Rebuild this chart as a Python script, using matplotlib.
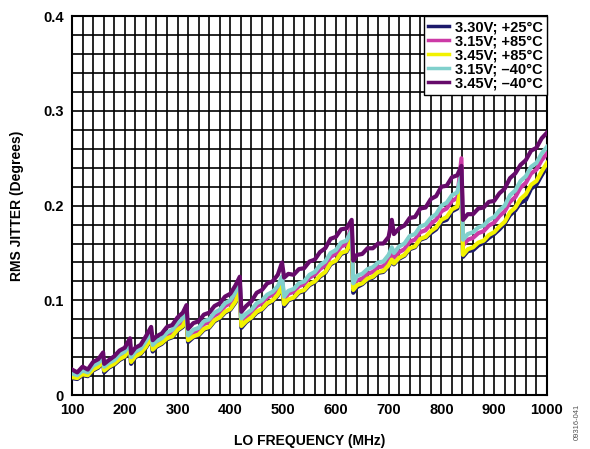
import numpy as np
import matplotlib
matplotlib.use('Agg')
import matplotlib.pyplot as plt
from matplotlib.ticker import MultipleLocator, FuncFormatter

plt.rcParams['font.family'] = ['Liberation Sans', 'DejaVu Sans']
plt.rcParams['font.weight'] = 'bold'

# LO frequency (MHz), shared by all five curves
freq = [100, 110, 120, 130, 140, 150, 159, 161, 170, 180,
        190, 200, 210, 212, 220, 230, 240, 250, 253, 260,
        270, 280, 290, 300, 310, 317, 320, 330, 340, 350,
        360, 370, 380, 390, 400, 410, 418, 421, 430, 440,
        450, 460, 470, 480, 490, 498, 502, 510, 520, 530,
        540, 550, 560, 570, 580, 590, 600, 610, 620, 630,
        633, 640, 650, 660, 670, 680, 690, 700, 706, 710,
        720, 730, 740, 750, 760, 770, 780, 790, 800, 810,
        820, 830, 838, 841, 850, 860, 870, 880, 890, 900,
        910, 920, 930, 940, 950, 960, 970, 980, 990, 1000]

# RMS jitter (degrees)
jit_330_25 = [0.018, 0.017, 0.021, 0.020, 0.026, 0.029, 0.035, 0.024, 0.029, 0.032,
              0.037, 0.040, 0.048, 0.033, 0.040, 0.043, 0.050, 0.059, 0.046, 0.051,
              0.054, 0.059, 0.061, 0.068, 0.072, 0.080, 0.056, 0.061, 0.063, 0.069,
              0.071, 0.078, 0.081, 0.087, 0.090, 0.098, 0.108, 0.071, 0.077, 0.081,
              0.087, 0.090, 0.096, 0.099, 0.105, 0.114, 0.094, 0.100, 0.102, 0.108,
              0.110, 0.116, 0.119, 0.125, 0.129, 0.138, 0.141, 0.149, 0.151, 0.163,
              0.108, 0.114, 0.117, 0.122, 0.124, 0.129, 0.130, 0.136, 0.142, 0.138,
              0.144, 0.147, 0.154, 0.156, 0.164, 0.166, 0.171, 0.175, 0.183, 0.185,
              0.194, 0.197, 0.220, 0.146, 0.152, 0.153, 0.158, 0.161, 0.166, 0.170,
              0.175, 0.181, 0.190, 0.195, 0.203, 0.206, 0.218, 0.222, 0.232, 0.241]

jit_315_85 = [0.021, 0.020, 0.024, 0.023, 0.029, 0.032, 0.039, 0.028, 0.032, 0.035,
              0.041, 0.044, 0.053, 0.038, 0.044, 0.047, 0.055, 0.065, 0.051, 0.055,
              0.058, 0.064, 0.066, 0.073, 0.078, 0.088, 0.060, 0.066, 0.068, 0.075,
              0.077, 0.084, 0.087, 0.094, 0.097, 0.106, 0.118, 0.078, 0.083, 0.087,
              0.094, 0.097, 0.103, 0.106, 0.112, 0.122, 0.101, 0.107, 0.109, 0.115,
              0.117, 0.124, 0.127, 0.133, 0.137, 0.146, 0.149, 0.157, 0.159, 0.180,
              0.114, 0.121, 0.123, 0.128, 0.130, 0.135, 0.136, 0.143, 0.150, 0.145,
              0.151, 0.154, 0.162, 0.164, 0.172, 0.174, 0.181, 0.185, 0.194, 0.197,
              0.205, 0.208, 0.250, 0.158, 0.164, 0.166, 0.171, 0.173, 0.179, 0.182,
              0.189, 0.194, 0.204, 0.209, 0.219, 0.224, 0.234, 0.238, 0.248, 0.255]

jit_345_85 = [0.019, 0.018, 0.022, 0.021, 0.027, 0.030, 0.036, 0.026, 0.030, 0.033,
              0.038, 0.041, 0.049, 0.035, 0.041, 0.044, 0.051, 0.060, 0.048, 0.052,
              0.055, 0.060, 0.062, 0.069, 0.073, 0.081, 0.058, 0.062, 0.064, 0.070,
              0.072, 0.079, 0.082, 0.088, 0.091, 0.099, 0.110, 0.073, 0.078, 0.082,
              0.088, 0.091, 0.097, 0.100, 0.106, 0.115, 0.096, 0.101, 0.103, 0.109,
              0.111, 0.117, 0.120, 0.126, 0.130, 0.139, 0.142, 0.150, 0.152, 0.164,
              0.111, 0.116, 0.118, 0.123, 0.125, 0.130, 0.131, 0.137, 0.143, 0.139,
              0.145, 0.148, 0.155, 0.157, 0.165, 0.167, 0.173, 0.177, 0.185, 0.188,
              0.196, 0.199, 0.222, 0.148, 0.154, 0.156, 0.161, 0.163, 0.169, 0.172,
              0.178, 0.183, 0.193, 0.198, 0.207, 0.212, 0.222, 0.226, 0.236, 0.245]

jit_315_m40 = [0.023, 0.021, 0.026, 0.024, 0.031, 0.034, 0.040, 0.030, 0.034, 0.037,
               0.043, 0.046, 0.054, 0.040, 0.046, 0.049, 0.057, 0.066, 0.053, 0.057,
               0.060, 0.066, 0.069, 0.076, 0.081, 0.089, 0.063, 0.069, 0.071, 0.078,
               0.080, 0.087, 0.090, 0.097, 0.100, 0.109, 0.119, 0.081, 0.086, 0.090,
               0.097, 0.100, 0.106, 0.109, 0.115, 0.125, 0.104, 0.110, 0.112, 0.118,
               0.120, 0.127, 0.130, 0.137, 0.141, 0.150, 0.153, 0.161, 0.163, 0.174,
               0.118, 0.126, 0.128, 0.133, 0.135, 0.140, 0.141, 0.148, 0.156, 0.150,
               0.157, 0.160, 0.168, 0.170, 0.178, 0.180, 0.187, 0.191, 0.200, 0.203,
               0.211, 0.214, 0.234, 0.164, 0.170, 0.172, 0.177, 0.179, 0.185, 0.188,
               0.195, 0.200, 0.211, 0.216, 0.226, 0.231, 0.241, 0.245, 0.255, 0.262]

jit_345_m40 = [0.027, 0.024, 0.030, 0.027, 0.035, 0.038, 0.045, 0.033, 0.037, 0.041,
               0.047, 0.050, 0.060, 0.044, 0.050, 0.053, 0.062, 0.072, 0.058, 0.062,
               0.065, 0.072, 0.074, 0.082, 0.087, 0.095, 0.070, 0.076, 0.078, 0.085,
               0.087, 0.094, 0.097, 0.104, 0.107, 0.116, 0.125, 0.088, 0.094, 0.099,
               0.108, 0.111, 0.118, 0.120, 0.127, 0.140, 0.124, 0.128, 0.127, 0.133,
               0.134, 0.141, 0.143, 0.151, 0.155, 0.165, 0.167, 0.175, 0.176, 0.185,
               0.142, 0.148, 0.149, 0.155, 0.155, 0.160, 0.160, 0.167, 0.185, 0.170,
               0.176, 0.179, 0.187, 0.188, 0.197, 0.198, 0.207, 0.210, 0.220, 0.221,
               0.230, 0.232, 0.242, 0.185, 0.191, 0.191, 0.197, 0.198, 0.204, 0.205,
               0.213, 0.218, 0.229, 0.234, 0.243, 0.248, 0.258, 0.261, 0.271, 0.277]

labels = ['3.30V; +25°C', '3.15V; +85°C', '3.45V; +85°C',
          '3.15V; \u201340°C', '3.45V; \u201340°C']
colors = ['#1c1a6b', '#cc3aa6', '#f2f200', '#80d0cc', '#660a6a']
series = [jit_330_25, jit_315_85, jit_345_85, jit_315_m40, jit_345_m40]

fig = plt.figure(figsize=(5.9, 4.49), dpi=100)
ax = fig.add_axes([0.122, 0.120, 0.805, 0.844])

for vals, lab, col in zip(series, labels, colors):
    ax.plot(freq, vals, color=col, lw=3.0, label=lab, zorder=3)

ax.set_xlim(100, 1000)
ax.set_ylim(0, 0.4)
ax.xaxis.set_major_locator(MultipleLocator(100))
ax.xaxis.set_minor_locator(MultipleLocator(20))
ax.yaxis.set_major_locator(MultipleLocator(0.1))
ax.yaxis.set_minor_locator(MultipleLocator(0.02))
ax.yaxis.set_major_formatter(FuncFormatter(lambda v, p: '0' if v == 0 else '%.1f' % v))
ax.grid(which='both', color='black', lw=1.2, zorder=1)
ax.tick_params(which='both', length=0, labelsize=10.5, pad=6)
for s in ax.spines.values():
    s.set_linewidth(1.5)

ax.set_xlabel('LO FREQUENCY (MHz)', fontsize=10, fontweight='bold', labelpad=12)
ax.set_ylabel('RMS JITTER (Degrees)', fontsize=10, fontweight='bold', labelpad=14)

leg = ax.legend(loc='upper right', fontsize=10.5, frameon=True, fancybox=False,
                borderaxespad=0, labelspacing=0.0, handlelength=1.4,
                handletextpad=0.4, borderpad=0.3)
leg.get_frame().set_edgecolor('black')
leg.get_frame().set_linewidth(1.0)
leg.get_frame().set_alpha(1)
for t in leg.get_texts():
    t.set_fontweight('bold')
for h in leg.get_lines():
    h.set_linewidth(2.5)

fig.text(0.979, 0.06, '09316-041', rotation=90, fontsize=5.5, color='#555555',
         fontweight='normal', ha='center', va='center')

fig.savefig('out.png', dpi=100)
